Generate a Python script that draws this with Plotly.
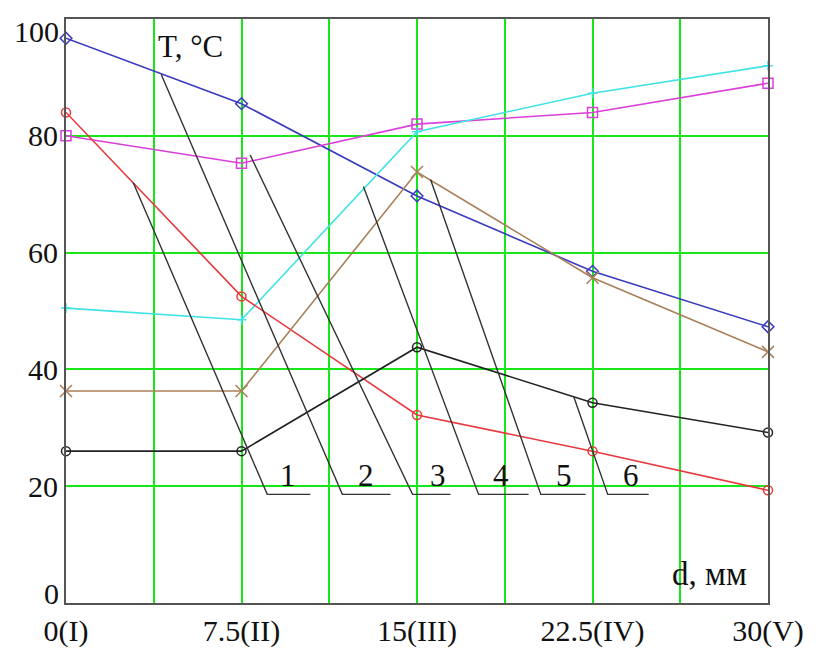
import plotly.graph_objects as go

# ---- data ----
d_mm = [0, 7.5, 15, 22.5, 30]
x_ticktext = ["0(I)", "7.5(II)", "15(III)", "22.5(IV)", "30(V)"]

t_blue = [96.7, 85.5, 69.7, 56.8, 47.3]      # curve 2
t_magenta = [80.0, 75.3, 82.0, 84.0, 89.0]   # curve 3
t_cyan = [50.5, 48.5, 80.7, 87.3, 92.0]      # curve 4
t_red = [84.0, 52.5, 32.2, 26.0, 19.3]       # curve 1
t_brown = [36.3, 36.3, 73.8, 55.7, 43.0]     # curve 5
t_black = [26.0, 26.0, 43.8, 34.3, 29.2]     # curve 6

# leader lines for labels 1..6: start on curve, corner, end of underline
leader_labels = ["1", "2", "3", "4", "5", "6"]
leader_x0 = [2.87, 4.07, 7.87, 12.71, 15.58, 21.70]
leader_y0 = [72.0, 90.5, 76.7, 71.3, 72.5, 35.3]
leader_x1 = [8.60, 11.81, 14.81, 17.63, 20.29, 23.15]
leader_y1 = [18.6, 18.6, 18.6, 18.6, 18.6, 18.6]
leader_x2 = [10.44, 13.87, 16.43, 19.77, 22.21, 24.90]
label_x = [9.50, 12.80, 15.88, 18.57, 21.27, 24.14]
label_y = [21.8, 21.8, 21.8, 21.8, 21.8, 21.8]

y_tickvals = [20, 40, 60, 80]

FONT = "Liberation Serif"
GRID = "#19e619"

fig = go.Figure()

series = [
    (t_blue, "#3a3abf", "diamond-open", 9),
    (t_magenta, "#d93fd9", "square-open", 10),
    (t_cyan, "#3fe3e3", "cross-thin-open", 7),
    (t_red, "#e8383d", "circle-open", 9),
    (t_brown, "#a9805a", "x-thin-open", 12),
    (t_black, "#222222", "circle-open", 9),
]
for ys, col, sym, sz in series:
    fig.add_trace(go.Scatter(
        x=d_mm, y=ys, mode="lines+markers",
        line=dict(color=col, width=1.6),
        marker=dict(symbol=sym, size=sz, color=col, line=dict(color=col, width=1.5)),
        cliponaxis=False, showlegend=False, hoverinfo="skip"))

for i in range(len(leader_labels)):
    fig.add_trace(go.Scatter(
        x=[leader_x0[i], leader_x1[i], leader_x2[i]],
        y=[leader_y0[i], leader_y1[i], leader_y1[i]],
        mode="lines", line=dict(color="#333333", width=1.4),
        showlegend=False, hoverinfo="skip"))
    fig.add_annotation(x=label_x[i], y=label_y[i], text=leader_labels[i],
                       showarrow=False, font=dict(family=FONT, size=31, color="#111"),
                       xanchor="center", yanchor="middle")

# axis titles inside plot
fig.add_annotation(x=0.178, xref="paper", y=95.3, yref="y", text="T, °C", showarrow=False,
                   font=dict(family=FONT, size=31, color="#111"), xanchor="center", yanchor="middle")
fig.add_annotation(x=0.916, xref="paper", y=5.0, yref="y", text="d, мм", showarrow=False,
                   font=dict(family=FONT, size=33, color="#111"), xanchor="center", yanchor="middle")

# end y labels (shifted inward like the original)
fig.add_annotation(x=0, xref="paper", y=100, yref="y", text="100", showarrow=False,
                   font=dict(family=FONT, size=30, color="#111"), xanchor="right",
                   yanchor="middle", xshift=-5, yshift=-12)
fig.add_annotation(x=0, xref="paper", y=0, yref="y", text="0", showarrow=False,
                   font=dict(family=FONT, size=30, color="#111"), xanchor="right",
                   yanchor="middle", xshift=-5, yshift=10)

fig.update_xaxes(range=[0, 30], tickmode="array", tickvals=d_mm, ticktext=x_ticktext,
                 showgrid=True, gridcolor=GRID, gridwidth=2,
                 minor=dict(dtick=3.75, tick0=0, showgrid=True, gridcolor=GRID, gridwidth=2),
                 showline=True, linecolor="#555", linewidth=2, mirror=True,
                 zeroline=False, ticks="",
                 tickfont=dict(family=FONT, size=30, color="#111"))
fig.update_yaxes(range=[0, 100], tickmode="array", tickvals=y_tickvals,
                 showgrid=True, gridcolor=GRID, gridwidth=2,
                 showline=True, linecolor="#555", linewidth=2, mirror=True,
                 zeroline=False, ticks="",
                 tickfont=dict(family=FONT, size=30, color="#111"))

fig.update_layout(width=829, height=660, margin=dict(l=66, r=61, t=19, b=42),
                  plot_bgcolor="white", paper_bgcolor="white")

fig.write_html("out.html")
